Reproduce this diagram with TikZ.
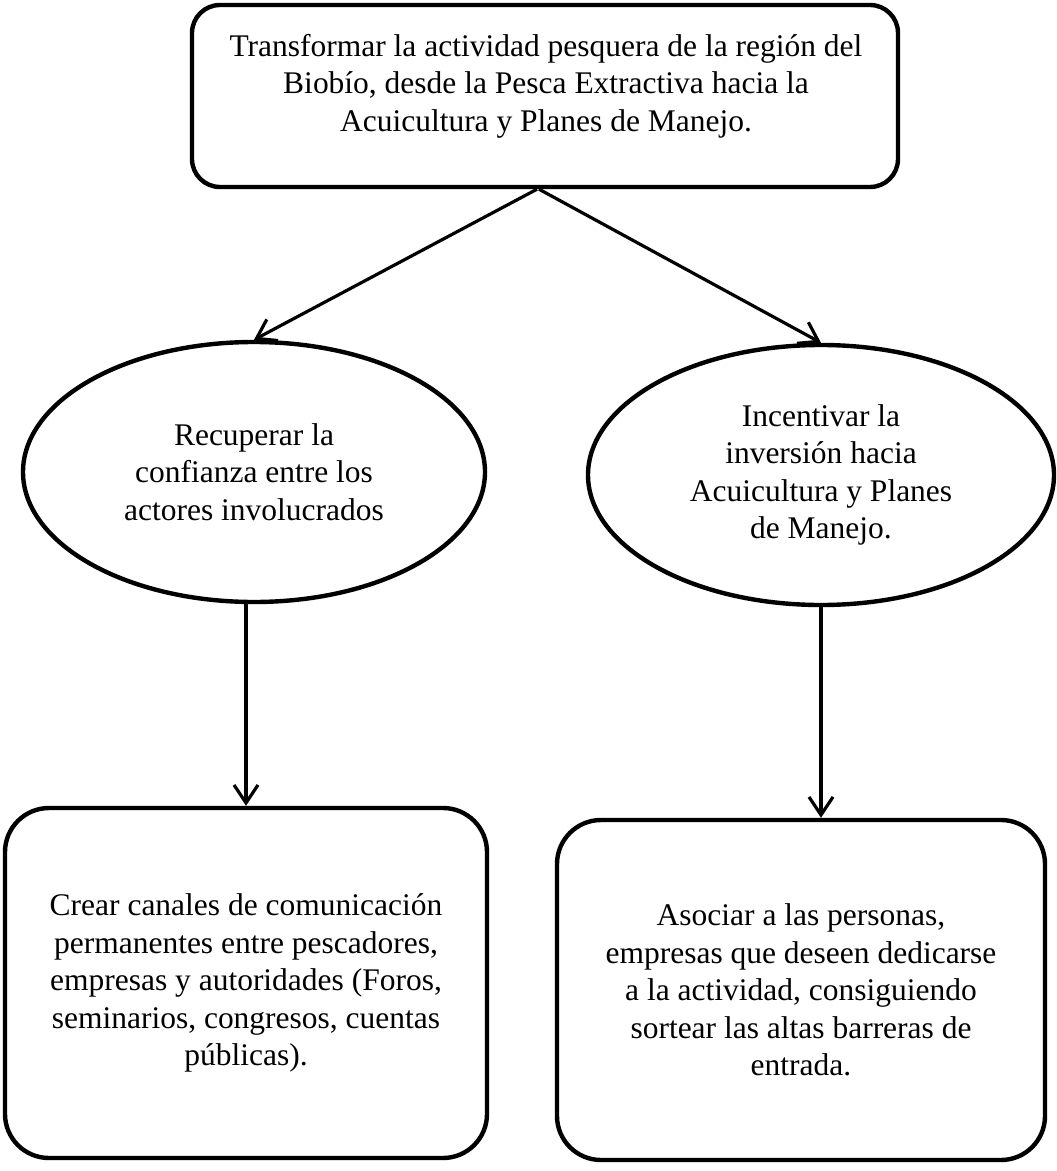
\documentclass[tikz,border=0pt]{standalone}
\usepackage{fontspec}
\setmainfont{Liberation Serif}
\usetikzlibrary{arrows.meta,shapes.geometric}

\begin{document}
\begin{tikzpicture}[
  box/.style={draw=black,line width=0.11cm,rounded corners=1.1cm},
  oval/.style={ellipse,draw=black,line width=0.11cm,inner sep=0pt},
  link/.style={-{Straight Barb[length=0.45cm,width=0.6cm]},line width=0.08cm},
  every node/.style={align=center,font=\fontsize{22.4}{26.7}\selectfont}]
% \draw[help lines] (0,0) grid (26,-29);
\useasboundingbox (0,0) rectangle (26.425,-29.275);
\node (goal) [box,rounded corners=0.7cm,minimum width=17.65cm,minimum height=4.55cm] at (13.625,-2.4) {};
\node (goaltext) at (13.65,-2.15) {Transformar la actividad pesquera de la región del\\
  Biobío, desde la Pesca Extractiva hacia la\\ Acuicultura y Planes de Manejo.};
%
\node (trust) [oval,minimum width=11.55cm,minimum height=6.5cm] at (6.35,-11.8)
  {Recuperar la\\ confianza entre los\\ actores involucrados};
\node (invest) [oval,minimum width=11.65cm,minimum height=6.5cm] at (20.525,-11.875)
  {Incentivar la\\ inversión hacia\\ Acuicultura y Planes\\ de Manejo.};
%
\node (comm) [box,minimum width=12.05cm,minimum height=8.75cm] at (6.15,-24.575)
  {Crear canales de comunicación\\ permanentes entre pescadores,\\ empresas y autoridades (Foros,\\
   seminarios, congresos, cuentas\\ públicas).};
\node (assoc) [box,minimum width=12.2cm,minimum height=8.5cm] at (20.025,-24.75)
  {Asociar a las personas,\\ empresas que deseen dedicarse\\ a la actividad, consiguiendo\\
   sortear las altas barreras de\\ entrada.};
%
\draw[link] ([xshift=-0.2cm]goal.south) -- (trust.north);
\draw[link] ([xshift=-0.15cm]goal.south) -- (invest.north);
\draw[link] (comm.north |- trust.south) -- (comm.north);
\draw[link] (invest.south) -- (invest.south |- assoc.north);
\end{tikzpicture}
\end{document}
